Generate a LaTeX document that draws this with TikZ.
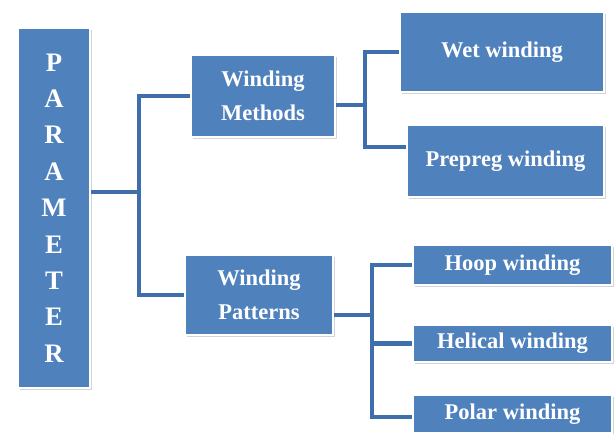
\documentclass[tikz,border=0pt]{standalone}
\usepackage{fontspec}
\setmainfont{Liberation Serif}
\usepackage{tikz}
\usetikzlibrary{positioning, calc, shadows}
\definecolor{myblue}{RGB}{79,129,189}
\definecolor{mylink}{RGB}{62,110,172}
\tikzset{
  box/.style={rectangle, draw=white, fill=myblue, line width=1.2pt,
    text=white, align=center, inner sep=2pt,
    font=\bfseries\fontsize{16}{24}\selectfont,
    drop shadow={opacity=0.35, shadow xshift=0.05cm, shadow yshift=-0.06cm}},
  link/.style={line width=3pt, color=mylink}
}
\begin{document}
\begin{tikzpicture}
  \useasboundingbox (0,0) rectangle (15.375,10.85);

  % Root column
  \node[box, minimum width=1.8cm, minimum height=9cm,
    font=\bfseries\fontsize{19}{25.9}\selectfont] (param) at (1.35, 5.65)
    {P\\A\\R\\A\\M\\E\\T\\E\\R};

  % Second level
  \node[box, minimum width=3.6cm, minimum height=2.05cm] (methods) at (6.575, 8.45) {Winding\\Methods};
  \node[box, minimum width=3.7cm, minimum height=2.0cm] (patterns) at (6.475, 3.475) {Winding\\Patterns};

  % Third level
  \node[box, minimum width=5.1cm, minimum height=2.0cm] (wet) at (12.55, 9.55) {Wet winding};
  \node[box, minimum width=4.925cm, minimum height=1.8cm] (prepreg) at (12.6375, 6.825) {Prepreg winding};
  \node[box, minimum width=4.975cm, minimum height=1.0cm] (hoop) at (12.8125, 4.225) {Hoop winding};
  \node[box, minimum width=4.975cm, minimum height=0.925cm] (helical) at (12.8125, 2.2625) {Helical winding};
  \node[box, minimum width=4.975cm, minimum height=0.95cm] (polar) at (12.8125, 0.5) {Polar winding};

  % Junction points
  \coordinate (trunk) at (3.475, 6.05);
  \coordinate (mspine) at (9.125, 8.225);
  \coordinate (pspine) at (9.3, 2.975);

  % Root to second level
  \draw[link] (param.east |- trunk) -- (trunk);
  \draw[link] (trunk) |- (methods.west);
  \draw[link] (trunk) |- (patterns.west);

  % Methods to its branches
  \draw[link] (methods.east |- mspine) -- (mspine);
  \draw[link] (mspine) |- (wet.west);
  \draw[link] (mspine) |- ($(prepreg.west)+(0,0.35)$);

  % Patterns to its branches
  \draw[link] (patterns.east |- pspine) -- (pspine);
  \draw[link] (pspine) |- (hoop.west);
  \draw[link] (pspine) |- (helical.west);
  \draw[link] (pspine) |- ($(polar.west)+(0,-0.075)$);
\end{tikzpicture}
\end{document}
